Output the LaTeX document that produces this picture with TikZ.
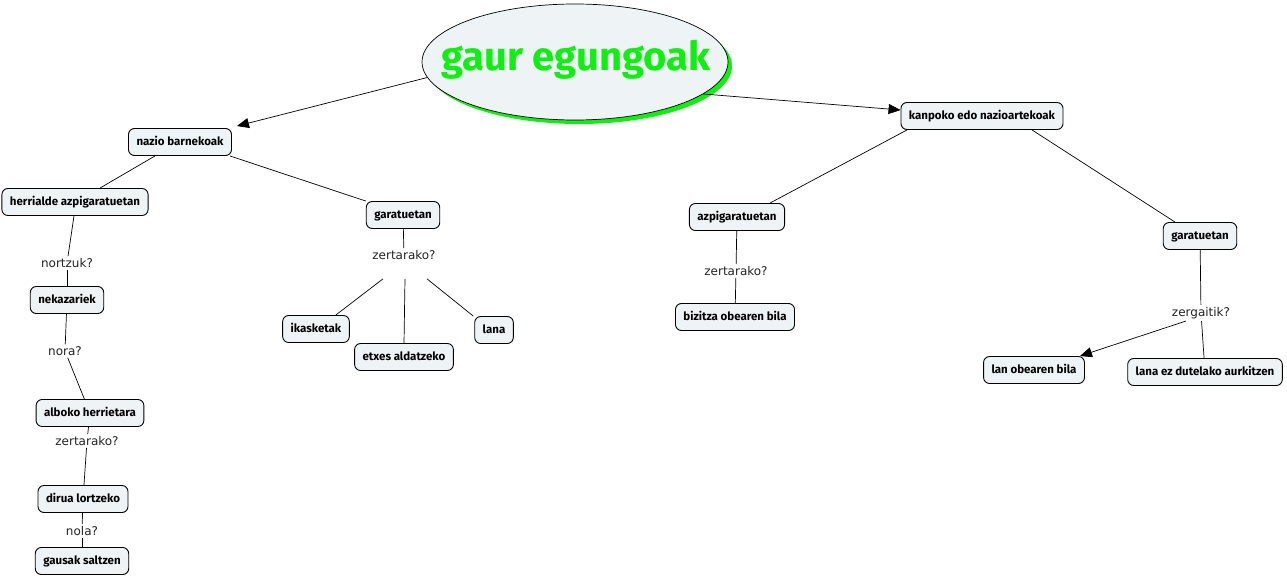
\documentclass[tikz,border=0pt]{standalone}
\usepackage{fontspec}
\setmainfont{DejaVu Sans}
\newfontfamily\boxfont{Fira Sans}
\newfontfamily\titlefont{Fira Sans}
\usetikzlibrary{arrows.meta,shapes.geometric}
\definecolor{boxfill}{HTML}{EEF4F6}
\definecolor{titlegreen}{HTML}{11EE11}
\definecolor{labgray}{HTML}{222222}
\tikzset{
  concept/.style={draw=black, line width=0.9pt, fill=boxfill, rounded corners=6pt,
    font=\boxfont\bfseries\fontsize{11.5}{13}\selectfont, inner xsep=8pt, minimum height=27pt, text height=8.5pt, text depth=2.5pt},
  lab/.style={font=\fontsize{12}{14}\selectfont, text=labgray, inner sep=2pt},
  link/.style={draw=black, line width=0.7pt},
  arr/.style={link, -{Triangle[length=12pt,width=10pt]}},
}
\begin{document}
\begin{tikzpicture}[x=1pt,y=-1pt]
\useasboundingbox (0,0) rectangle (1287,578);
% main ellipse
\fill[titlegreen] (579,66) ellipse [x radius=153, y radius=58];
\node[ellipse, draw=black, line width=0.7pt, fill=boxfill, minimum width=306pt, minimum height=116pt, inner sep=0pt] (main) at (575,62) {};
\node[font=\titlefont\bfseries\fontsize{40}{44}\selectfont, text=titlegreen] (title) at (576,60) {gaur egungoak};

% concepts
\node[concept] (nazio) at (180,142) {nazio barnekoak};
\node[concept] (herri) at (75,202) {herrialde azpigaratuetan};
\node[concept] (garL) at (403,215) {garatuetan};
\node[concept] (neka) at (67,300) {nekazariek};
\node[concept] (albo) at (90,413) {alboko herrietara};
\node[concept] (dirua) at (83,499) {dirua lortzeko};
\node[concept] (gaus) at (82,561) {gausak saltzen};
\node[concept] (ikas) at (316,329) {ikasketak};
\node[concept] (etxe) at (404,357) {etxes aldatzeko};
\node[concept] (lana) at (494,330) {lana};
\node[concept] (kanp) at (982,116) {kanpoko edo nazioartekoak};
\node[concept] (azpR) at (737,217) {azpigaratuetan};
\node[concept] (bizi) at (735,317) {bizitza obearen bila};
\node[concept] (garR) at (1200,236) {garatuetan};
\node[concept] (lanob) at (1034,370) {lan obearen bila};
\node[concept] (lanez) at (1205,372) {lana ez dutelako aurkitzen};

% labels
\node[lab] (l1) at (67,263) {nortzuk?};
\node[lab] (l2) at (65,351) {nora?};
\node[lab] (l3) at (87,441) {zertarako?};
\node[lab] (l4) at (82,531) {nola?};
\node[lab] (l5) at (404,255) {zertarako?};
\node[lab] (l6) at (736,271) {zertarako?};
\node[lab] (l7) at (1201,313) {zergaitik?};

% connectors
\draw[arr] (main.186) -- ([xshift=5pt,yshift=2pt]nazio.north east);
\draw[arr] (main.-14) -- ([yshift=6pt]kanp.west);
\draw[link] ([xshift=-25pt]nazio.south) -- ([xshift=25pt]herri.north);
\draw[link] ([xshift=-2pt]nazio.south east) -- (garL.north west);
\draw[link] ([xshift=-1pt]herri.south) -- (l1);
\draw[link] (l1) -- (neka);
\draw[link] (neka) -- (l2);
\draw[link] (l2) -- (albo);
\draw[link] (albo) -- (l3);
\draw[link] (l3) -- (dirua);
\draw[link] (dirua) -- (l4);
\draw[link] (l4) -- (gaus);
\draw[link] (garL) -- (l5);
\draw[link] ([xshift=-21pt,yshift=-17pt]l5.south) -- ([xshift=-14pt]ikas.north east);
\draw[link] ([xshift=1pt,yshift=-17pt]l5.south) -- (etxe.north);
\draw[link] ([xshift=23pt,yshift=-17pt]l5.south) -- ([xshift=-1pt]lana.north west);
\draw[link] ([xshift=-75pt]kanp.south) -- ([xshift=33pt]azpR.north);
\draw[link] ([xshift=50pt]kanp.south) -- ([xshift=-25pt]garR.north);
\draw[link] (azpR) -- (l6);
\draw[link] (l6) -- (bizi);
\draw[link] (garR) -- (l7);
\draw[arr] ([xshift=-15pt]l7.south) -- ([xshift=-5pt]lanob.north east);
\draw[link] (l7) -- (lanez);
\end{tikzpicture}
\end{document}
